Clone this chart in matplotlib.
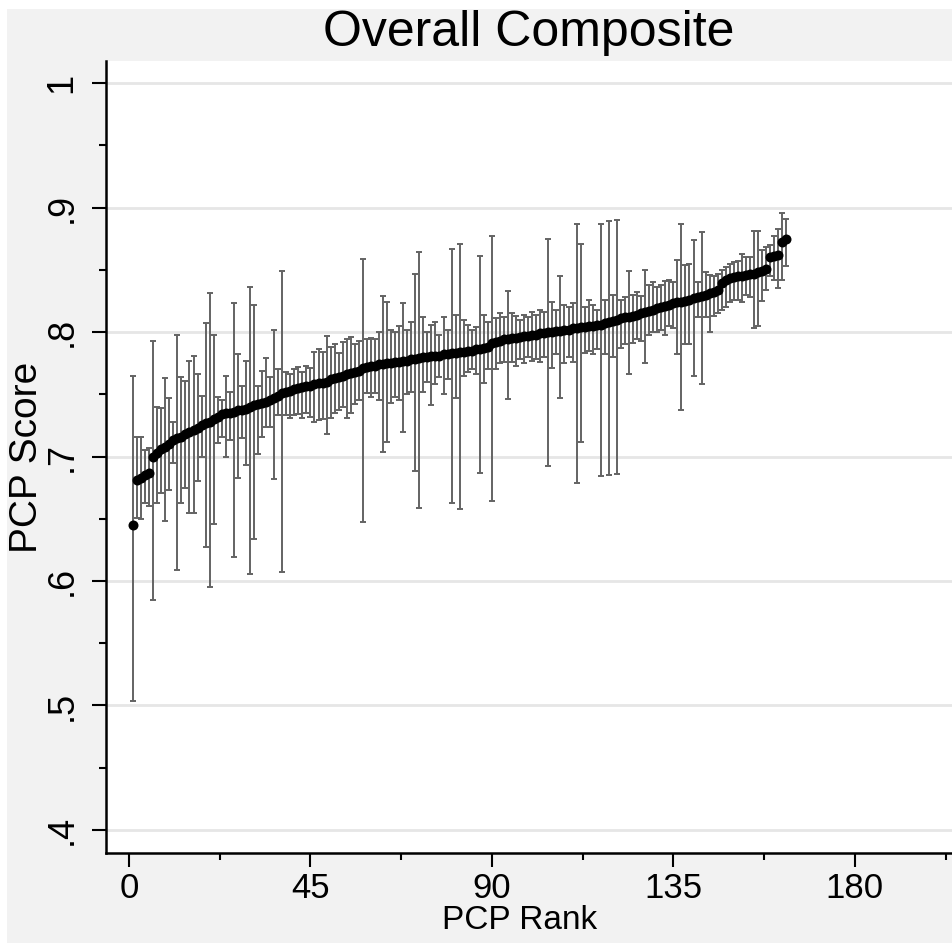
import numpy as np
import matplotlib
matplotlib.use("Agg")
import matplotlib.pyplot as plt
from matplotlib.patches import Rectangle
from matplotlib.ticker import MultipleLocator

plt.rcParams['font.family'] = ['Liberation Sans', 'DejaVu Sans']

# PCP score estimates, ordered by rank, with lower / upper interval ends
score = [
    .645, .681, .683, .685, .687, .700, .703, .706, .708, .710,
    .713, .715, .716, .718, .720, .721, .723, .725, .727, .728,
    .730, .732, .734, .735, .735, .736, .737, .737, .738, .740,
    .741, .742, .743, .744, .745, .747, .749, .751, .752, .753,
    .754, .755, .756, .757, .757, .758, .759, .759, .760, .762,
    .763, .764, .765, .766, .767, .768, .769, .771, .772, .773,
    .773, .774, .774, .775, .775, .776, .776, .777, .777, .778,
    .778, .779, .780, .780, .781, .781, .781, .782, .782, .783,
    .783, .784, .784, .785, .785, .786, .786, .787, .788, .791,
    .792, .793, .794, .794, .795, .795, .796, .797, .797, .798,
    .798, .799, .799, .800, .800, .801, .801, .802, .802, .803,
    .803, .804, .804, .805, .805, .806, .806, .807, .808, .809,
    .810, .811, .812, .812, .813, .814, .815, .816, .817, .818,
    .819, .820, .821, .822, .823, .824, .824, .825, .826, .827,
    .828, .829, .830, .831, .832, .834, .839, .842, .843, .844,
    .845, .845, .846, .847, .847, .848, .849, .851, .860, .861,
    .862, .872, .875,
]
upper = [
    .765, .716, .716, .705, .707, .793, .740, .739, .763, .747,
    .728, .798, .764, .761, .777, .781, .766, .749, .807, .831,
    .798, .748, .745, .765, .752, .823, .782, .757, .777, .836,
    .822, .757, .769, .779, .764, .802, .770, .849, .768, .766,
    .770, .772, .768, .773, .771, .784, .786, .784, .797, .788,
    .790, .783, .792, .794, .796, .790, .793, .859, .794, .795,
    .794, .800, .829, .824, .802, .800, .805, .823, .802, .808,
    .847, .864, .812, .800, .806, .808, .798, .812, .802, .867,
    .814, .871, .810, .806, .802, .804, .861, .814, .808, .877,
    .811, .815, .812, .833, .815, .813, .810, .814, .812, .816,
    .814, .818, .816, .875, .824, .818, .845, .822, .820, .823,
    .887, .871, .820, .826, .822, .818, .887, .826, .889, .830,
    .890, .826, .828, .849, .830, .832, .829, .850, .838, .840,
    .836, .838, .841, .842, .840, .858, .887, .854, .855, .874,
    .840, .880, .848, .846, .845, .847, .850, .852, .855, .856,
    .857, .863, .860, .860, .881, .881, .866, .868, .870, .877,
    .883, .896, .891,
]
lower = [
    .504, .651, .650, .663, .660, .585, .663, .671, .648, .673,
    .695, .609, .663, .675, .655, .655, .680, .700, .627, .595,
    .646, .711, .716, .700, .713, .619, .683, .715, .693, .606,
    .634, .702, .716, .724, .724, .682, .733, .607, .733, .731,
    .733, .734, .731, .735, .732, .728, .729, .730, .718, .731,
    .735, .737, .740, .731, .735, .742, .745, .647, .751, .748,
    .751, .745, .704, .712, .743, .748, .745, .720, .750, .752,
    .688, .659, .752, .760, .741, .758, .764, .750, .762, .663,
    .747, .658, .765, .768, .770, .766, .687, .759, .770, .664,
    .770, .775, .776, .746, .776, .773, .778, .775, .780, .777,
    .778, .776, .780, .692, .771, .782, .747, .775, .780, .776,
    .679, .712, .783, .785, .782, .786, .684, .782, .685, .780,
    .686, .787, .790, .766, .791, .794, .793, .775, .798, .800,
    .800, .802, .798, .805, .803, .782, .737, .790, .790, .765,
    .812, .758, .812, .800, .813, .815, .818, .820, .824, .826,
    .826, .824, .830, .828, .803, .805, .825, .834, .845, .842,
    .835, .842, .853,
]
x_ticks = [0, 45, 90, 135, 180]
y_ticks = [.4, .5, .6, .7, .8, .9, 1]
y_labels = ['.4', '.5', '.6', '.7', '.8', '.9', '1']

rank = np.arange(1, len(score) + 1)
score = np.array(score)
err = [score - np.array(lower), np.array(upper) - score]

W, H = 952, 946
fig = plt.figure(figsize=(W / 100, H / 100), dpi=100)
fig.patch.set_facecolor('white')
fig.patches.append(Rectangle((7 / W, 3 / H), 1, 1 - 12 / H, transform=fig.transFigure,
                             facecolor='#f2f2f2', edgecolor='none', zorder=-10))

ax = fig.add_axes([106 / W, (H - 853) / H, 1 - 106 / W, (853 - 61) / H])
ax.set_facecolor('white')

ax.errorbar(rank, score, yerr=err, fmt='none', ecolor='#636363', elinewidth=1.4,
            capsize=2.5, capthick=1.4, zorder=2)
ax.plot(rank, score, 'o', color='black', markersize=7.2, markeredgewidth=0, zorder=3)

ax.set_xlim(-5.7, 204.1)
ax.set_ylim(.3815, 1.0177)

ax.set_xticks(x_ticks)
ax.xaxis.set_minor_locator(MultipleLocator(22.5))
ax.set_yticks(y_ticks)
ax.set_yticklabels(y_labels, rotation=90, va='center')
ax.yaxis.set_minor_locator(MultipleLocator(.05))

ax.tick_params(axis='both', which='major', length=10, width=1.5, labelsize=26, color='black')
ax.tick_params(axis='both', which='minor', length=5, width=1.5, color='black')
ax.tick_params(axis='x', which='major', labelsize=25, pad=4)
ax.tick_params(axis='y', which='major', pad=9)

ax.grid(axis='y', which='major', color='#e6e6e6', linewidth=2, zorder=0)
ax.set_axisbelow(True)

for side in ['top', 'right']:
    ax.spines[side].set_visible(False)
for side in ['left', 'bottom']:
    ax.spines[side].set_linewidth(1.8)
    ax.spines[side].set_color('black')

ax.set_title('Overall Composite', fontsize=36, pad=11)
ax.set_xlabel('PCP Rank', fontsize=24)
ax.set_ylabel('PCP Score', fontsize=28)
ax.xaxis.set_label_coords(0.489, -0.066)
ax.yaxis.set_label_coords(-0.072, 0.5)

fig.savefig('out.png', dpi=100, facecolor=fig.get_facecolor())
